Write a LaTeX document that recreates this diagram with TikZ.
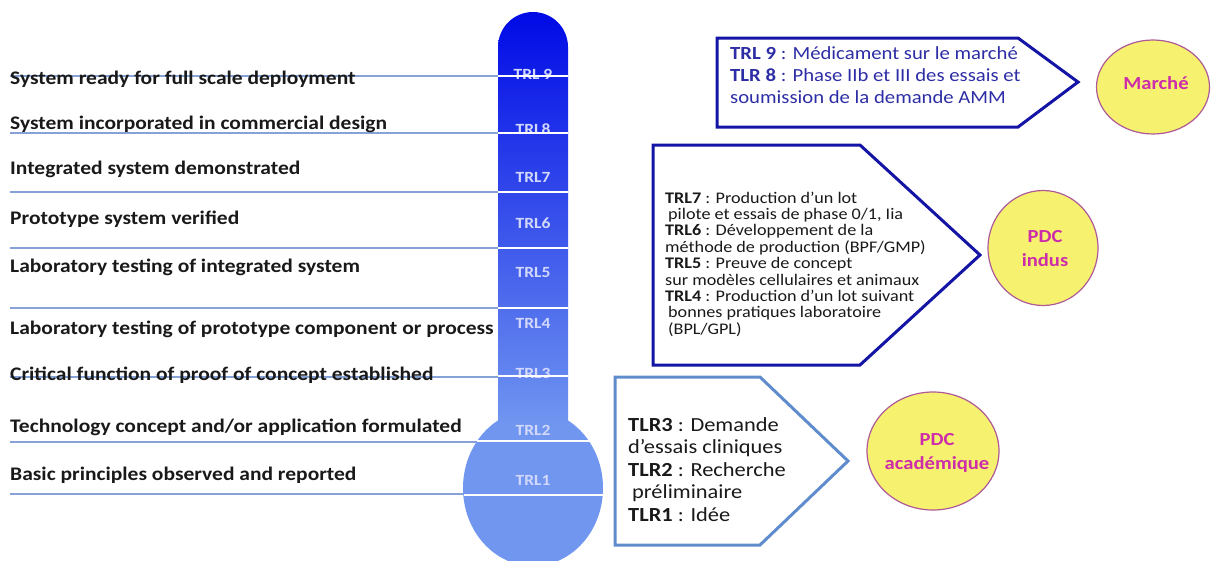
\documentclass[tikz,border=0pt]{standalone}
\usepackage{fontspec}
\setmainfont{Carlito}[FakeStretch=1.12]
\usetikzlibrary{shapes.geometric}
\definecolor{leftline}{RGB}{135,162,215}
\definecolor{tubetop}{RGB}{0,10,230}
\definecolor{tubebot}{RGB}{112,150,240}
\definecolor{trltxt}{RGB}{210,216,252}
\definecolor{navy}{RGB}{20,20,165}
\definecolor{navytxt}{RGB}{45,45,165}
\definecolor{lightedge}{RGB}{95,140,205}
\definecolor{ellfill}{RGB}{246,242,112}
\definecolor{elledge}{RGB}{175,90,150}
\definecolor{elltxt}{RGB}{205,45,170}
\definecolor{txt}{RGB}{25,25,25}
\begin{document}
\begin{tikzpicture}[x=1pt,y=-1pt,
  lefttext/.style={anchor=base west, inner sep=0pt, font=\fontsize{19.2}{21}\selectfont\bfseries, text=txt},
  trl/.style={anchor=base, inner sep=0pt, font=\fontsize{15.6}{18}\selectfont\bfseries, text=trltxt},
  leftrule/.style={draw=leftline, line width=2pt},
  divider/.style={draw=white, line width=2.5pt},
  bonetext/.style={anchor=base west, inner sep=0pt, font=\fontsize{18.5}{20}\selectfont, text=navytxt},
  btwotext/.style={anchor=base west, inner sep=0pt, font=\fontsize{16.2}{17}\selectfont, text=txt},
  bthreetext/.style={anchor=base west, inner sep=0pt, font=\fontsize{20}{22}\selectfont, text=txt},
  arrowbox/.style={line width=3pt, line join=miter},
  phase/.style={ellipse, draw=elledge, line width=1.2pt, fill=ellfill, inner sep=0pt},
  phasetext/.style={inner sep=0pt, align=center, text=elltxt, font=\fontsize{18.4}{24}\selectfont\bfseries}
]
\useasboundingbox (0,0) rectangle (1219,560);

% left rules
\draw[leftrule] (10,76) -- (498,76);
\draw[leftrule] (10,133) -- (498,133);
\draw[leftrule] (10,192) -- (498,192);
\draw[leftrule] (10,248) -- (498,248);
\draw[leftrule] (10,308) -- (498,308);
\draw[leftrule] (10,377) -- (498,377);
\draw[leftrule] (10,442) -- (477,442);
\draw[leftrule] (10,494) -- (464,494);

% left labels
\node[lefttext] (l9) at (10,84) {System ready for full scale deployment};
\node[lefttext] (l8) at (10,129) {System incorporated in commercial design};
\node[lefttext] (l7) at (10,174) {Integrated system demonstrated};
\node[lefttext] (l6) at (10,224) {Prototype system verified};
\node[lefttext] (l5) at (10,272) {Laboratory testing of integrated system};
\node[lefttext] (l4) at (10,334) {Laboratory testing of prototype component or process};
\node[lefttext] (l3) at (10,380) {Critical function of proof of concept established};
\node[lefttext] (l2) at (10,432) {Technology concept and/or application formulated};
\node[lefttext] (l1) at (10,480) {Basic principles observed and reported};

% thermometer
\fill[tubebot] (533,488) ellipse [x radius=70pt, y radius=78pt];
\shade[top color=tubetop, bottom color=tubebot]
  (498,425) -- (498,47) .. controls (498,27.67) and (513.67,12) .. (533,12)
  .. controls (552.33,12) and (568,27.67) .. (568,47) -- (568,425) -- cycle;

\node[trl] (t9) at (533,79) {TRL 9};
\node[trl] (t8) at (533,134) {TRL8};
\node[trl] (t7) at (533,182) {TRL7};
\node[trl] (t6) at (533,228) {TRL6};
\node[trl] (t5) at (533,277) {TRL5};
\node[trl] (t4) at (533,328) {TRL4};
\node[trl] (t3) at (533,378) {TRL3};
\node[trl] (t2) at (533,435) {TRL2};
\node[trl] (t1) at (533,485) {TRL1};

\draw[divider] (498,76) -- (568,76);
\draw[divider] (498,133) -- (568,133);
\draw[divider] (498,192) -- (568,192);
\draw[divider] (498,248) -- (568,248);
\draw[divider] (498,308) -- (568,308);
\draw[divider] (498,376) -- (568,376);
\draw[divider] (477,441) -- (590,441);
\draw[divider] (464,495) -- (604,495);

% box 1
\draw[arrowbox, draw=navy] (717,38) -- (1018,38) -- (1078,82) -- (1018,127) -- (717,127) -- cycle;
\node[bonetext] (b1a) at (730,59) {\textbf{TRL 9} : Médicament sur le marché};
\node[bonetext] (b1b) at (730,81) {\textbf{TLR 8} : Phase IIb et III des essais et};
\node[bonetext] (b1c) at (730,103) {soumission de la demande AMM};

% box 2
\draw[arrowbox, draw=navy] (653,145) -- (860,145) -- (980,255) -- (860,365) -- (653,365) -- cycle;
\node[btwotext] (b2a) at (665,203) {\textbf{TRL7} : Production d’un lot};
\node[btwotext] (b2b) at (668,219.4) {pilote et essais de phase 0/1, Iia};
\node[btwotext] (b2c) at (665,235.8) {\textbf{TRL6} : Développement de la};
\node[btwotext] (b2d) at (665,252.2) {méthode de production (BPF/GMP)};
\node[btwotext] (b2e) at (665,268.6) {\textbf{TRL5} : Preuve de concept};
\node[btwotext] (b2f) at (665,285) {sur modèles cellulaires et animaux};
\node[btwotext] (b2g) at (665,301.4) {\textbf{TRL4} : Production d’un lot suivant};
\node[btwotext] (b2h) at (668,317.8) {bonnes pratiques laboratoire};
\node[btwotext] (b2i) at (668,334.2) {(BPL/GPL)};

% box 3
\draw[arrowbox, draw=lightedge] (615,377) -- (760,377) -- (848,461) -- (760,545) -- (615,545) -- cycle;
\node[bthreetext] (b3a) at (628,431) {\textbf{TLR3} : Demande};
\node[bthreetext] (b3b) at (628,453.5) {d’essais cliniques};
\node[bthreetext] (b3c) at (628,476) {\textbf{TLR2} : Recherche};
\node[bthreetext] (b3d) at (632,498.5) {préliminaire};
\node[bthreetext] (b3e) at (628,521) {\textbf{TLR1} : Idée};

% ellipses
\node[phase, minimum width=113pt, minimum height=94pt] (marche) at (1153,87) {};
\node[phasetext] (marchet) at (1156,83) {Marché};
\node[phase, minimum width=110pt, minimum height=115pt] (indus) at (1043,248) {};
\node[phasetext] (indust) at (1045,249) {PDC\\indus};
\node[phase, minimum width=132pt, minimum height=118pt] (acad) at (933,451) {};
\node[phasetext] (acadt) at (937,453) {PDC\\académique};
\end{tikzpicture}
\end{document}
